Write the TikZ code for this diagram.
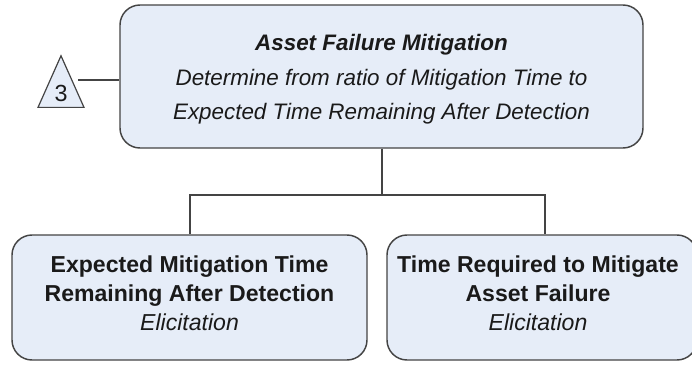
\documentclass[tikz,border=0pt]{standalone}
\usepackage{fontspec}
\setmainfont{Liberation Sans}
\usetikzlibrary{shapes.geometric}
\definecolor{boxfill}{HTML}{E6EDF8}
\definecolor{boxline}{HTML}{444444}
\definecolor{ink}{HTML}{1A1A1A}
\tikzset{
  goalbox/.style={draw=boxline, fill=boxfill, line width=1.1pt, rounded corners=15,
    inner sep=0pt},
  goaltext/.style={align=center, inner sep=0pt, text=ink},
  wire/.style={draw=boxline, line width=0.9pt},
  ref/.style={draw=boxline, fill=boxfill, line width=0.9pt, isosceles triangle,
    shape border rotate=90, isosceles triangle apex angle=48, inner sep=1pt,
    minimum height=51*0.75pt, minimum width=46*0.75pt, text=ink,
    font=\fontsize{17.5}{17.5}\selectfont}
}
\begin{document}
\begin{tikzpicture}[x=0.75pt,y=-0.75pt]
  \useasboundingbox (0,0) rectangle (692,364);
  \clip (0,0) rectangle (692,364);
  % top goal
  \node[goalbox, minimum width=523*0.75pt, minimum height=143*0.75pt] (top) at (381.5,76.5) {};
  \node[goaltext, font=\fontsize{16.8}{26}\selectfont] (toptext) at (381.5,79.5)
    {\textbf{\textit{Asset Failure Mitigation}}\\
     \textit{Determine from ratio of Mitigation Time to}\\
     \textit{Expected Time Remaining After Detection}};
  % referenced sub-model
  \node[ref, anchor=south] (tri) at (61,108) {\raisebox{-2pt}{3}};
  % children
  \node[goalbox, minimum width=355*0.75pt, minimum height=125*0.75pt] (left) at (189.5,297.5) {};
  \node[goaltext, font=\fontsize{17.3}{21.9}\selectfont] (lefttext) at (189.5,293)
    {\textbf{Expected Mitigation Time}\\
     \textbf{Remaining After Detection}\\
     \textit{Elicitation}};
  \node[goalbox, minimum width=310*0.75pt, minimum height=125*0.75pt] (right) at (542,297.5) {};
  \node[goaltext, font=\fontsize{17.3}{21.9}\selectfont] (righttext) at (538,293)
    {\textbf{Time Required to Mitigate}\\
     \textbf{Asset Failure}\\
     \textit{Elicitation}};
  % connectors
  \coordinate (split) at (382,195);
  \draw[wire] (tri.east |- 0,80) -- (top.west |- 0,80);
  \draw[wire] (top.south -| split) -- (split);
  \draw[wire] (split) -| (left.north -| 190,0);
  \draw[wire] (split) -| (right.north -| 545,0);
\end{tikzpicture}
\end{document}
